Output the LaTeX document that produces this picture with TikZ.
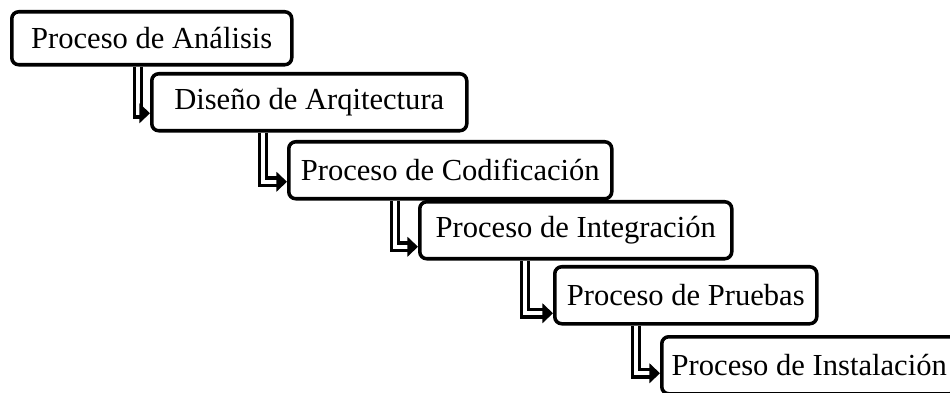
\documentclass[tikz,border=0pt]{standalone}
\usepackage{fontspec}
\setmainfont{Liberation Serif}
\usepackage{tikz}
\usetikzlibrary{arrows.meta,positioning}

\begin{document}
\begin{tikzpicture}[font=\fontsize{17.4}{20}\selectfont]
    \tikzstyle{stage} = [anchor=north west, shape=rectangle, draw=black, line width=2pt, fill=white, rounded corners=4pt, align=center, inner sep=0, minimum height=1.14cm]
    \tikzstyle{flow} = [double=white, draw=black, line width=1.9pt, double distance=2.4pt, -{Triangle[length=6pt,width=11pt]}]
    \useasboundingbox (0,0) rectangle (19,-7.86);

    \node[stage, minimum width=5.6cm, minimum height=1.06cm] (s1) at (0.2,-0.2) {Proceso de Análisis};
    \node[stage, minimum width=6.3cm] (s2) at (3.0,-1.44) {Diseño de Arqitectura};
    \node[stage, minimum width=6.46cm] (s3) at (5.74,-2.8) {Proceso de Codificación};
    \node[stage, minimum width=6.24cm] (s4) at (8.36,-4.0) {Proceso de Integración};
    \node[stage, minimum width=5.24cm] (s5) at (11.06,-5.3) {Proceso de Pruebas};
    \node[stage, minimum width=5.9cm] (s6) at (13.2,-6.7) {Proceso de Instalación};

    \draw[flow] ([xshift=2.56cm]s1.south west) |- ([yshift=-0.22cm]s2.west);
    \draw[flow] ([xshift=2.26cm]s2.south west) |- ([yshift=-0.23cm]s3.west);
    \draw[flow] ([xshift=2.16cm]s3.south west) |- ([yshift=-0.33cm]s4.west);
    \draw[flow] ([xshift=2.14cm]s4.south west) |- ([yshift=-0.36cm]s5.west);
    \draw[flow] ([xshift=1.66cm]s5.south west) |- ([yshift=-0.16cm]s6.west);
\end{tikzpicture}
\end{document}
